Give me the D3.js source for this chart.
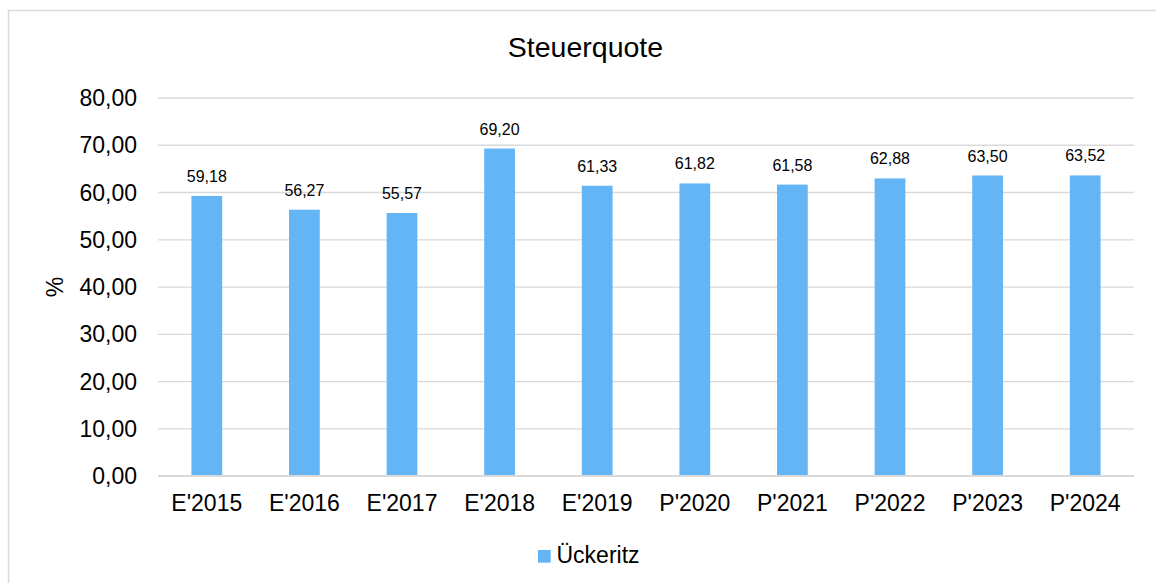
<!DOCTYPE html>
<html>
<head>
<meta charset="utf-8">
<script src="https://cdn.jsdelivr.net/npm/d3@7"></script>
<style>
  html, body { margin: 0; padding: 0; background: #fff; }
  svg { display: block; font-family: "Liberation Sans", Arial, Helvetica, sans-serif; }
</style>
</head>
<body>
<svg id="chart" width="1156" height="583"></svg>
<script>
// Daten
const categories = ["E'2015", "E'2016", "E'2017", "E'2018", "E'2019", "P'2020", "P'2021", "P'2022", "P'2023", "P'2024"];
const values = [59.18, 56.27, 55.57, 69.20, 61.33, 61.82, 61.58, 62.88, 63.50, 63.52];
const yTicks = [0, 10, 20, 30, 40, 50, 60, 70, 80];
const seriesName = "Ückeritz";
const chartTitle = "Steuerquote";
const yTitle = "%";

const COLORS = {
  bar: "#64b5f6",
  grid: "#d9d9d9",
  border: "#d9d9d9",
  text: "#000000",
};

const de = d3.formatLocale({ decimal: ",", thousands: ".", grouping: [3], currency: ["", " €"] });
const fmt = de.format(".2f");

const svg = d3.select("#chart");
const plot = { left: 158, right: 1134, top: 97.5, bottom: 475.7 };

// Rahmen (rechts und unten abgeschnitten wie im Original)
svg.append("rect")
  .attr("x", 8.5).attr("y", 10.5)
  .attr("width", 1160).attr("height", 600)
  .attr("fill", "none")
  .attr("stroke", COLORS.border)
  .attr("stroke-width", 1.5);

const x = d3.scaleBand()
  .domain(categories)
  .range([plot.left, plot.right])
  .paddingInner(0.685)
  .paddingOuter(0.3425);

const y = d3.scaleLinear().domain([0, 80]).range([plot.bottom, plot.top]);

// Gitterlinien + y-Achsenbeschriftung
const yAxis = svg.append("g")
  .attr("transform", `translate(${plot.left},0)`)
  .call(d3.axisLeft(y).tickValues(yTicks).tickFormat(fmt).tickSize(-(plot.right - plot.left)).tickPadding(21));
yAxis.select(".domain").remove();
yAxis.selectAll("line").attr("stroke", COLORS.grid).attr("stroke-width", 1.4);
yAxis.selectAll("text")
  .attr("fill", COLORS.text)
  .attr("font-size", 23)
  .attr("dy", "0.35em");

// Balken
svg.append("g")
  .selectAll("rect")
  .data(values)
  .join("rect")
  .attr("x", (d, i) => x(categories[i]))
  .attr("width", x.bandwidth())
  .attr("y", (d) => y(d))
  .attr("height", (d) => y(0) - y(d))
  .attr("fill", COLORS.bar);

// Datenbeschriftungen
svg.append("g")
  .selectAll("text")
  .data(values)
  .join("text")
  .attr("x", (d, i) => x(categories[i]) + x.bandwidth() / 2)
  .attr("y", (d) => y(d) - 14)
  .attr("text-anchor", "middle")
  .attr("font-size", 16)
  .attr("fill", COLORS.text)
  .text((d) => fmt(d));

// x-Achse
const xAxis = svg.append("g")
  .attr("transform", `translate(0,${plot.bottom})`)
  .call(d3.axisBottom(x).tickSize(0).tickPadding(0));
xAxis.select(".domain").remove();
xAxis.selectAll("text")
  .attr("fill", COLORS.text)
  .attr("font-size", 23)
  .attr("dy", null)
  .attr("y", 35);

svg.append("line")
  .attr("x1", plot.left).attr("x2", plot.right)
  .attr("y1", plot.bottom).attr("y2", plot.bottom)
  .attr("stroke", COLORS.grid)
  .attr("stroke-width", 1.4);

// Titel
svg.append("text")
  .attr("x", 585.5).attr("y", 57)
  .attr("text-anchor", "middle")
  .attr("font-size", 28.5)
  .attr("fill", COLORS.text)
  .text(chartTitle);

// y-Achsentitel
svg.append("text")
  .attr("transform", "translate(63,287) rotate(-90)")
  .attr("text-anchor", "middle")
  .attr("font-size", 23)
  .attr("fill", COLORS.text)
  .text(yTitle);

// Legende
const legend = svg.append("g").attr("transform", "translate(538,550)");
legend.append("rect").attr("width", 12.7).attr("height", 12.7).attr("fill", COLORS.bar);
legend.append("text")
  .attr("x", 18.5).attr("y", 12.5)
  .attr("font-size", 23)
  .attr("fill", COLORS.text)
  .text(seriesName);
</script>
</body>
</html>
